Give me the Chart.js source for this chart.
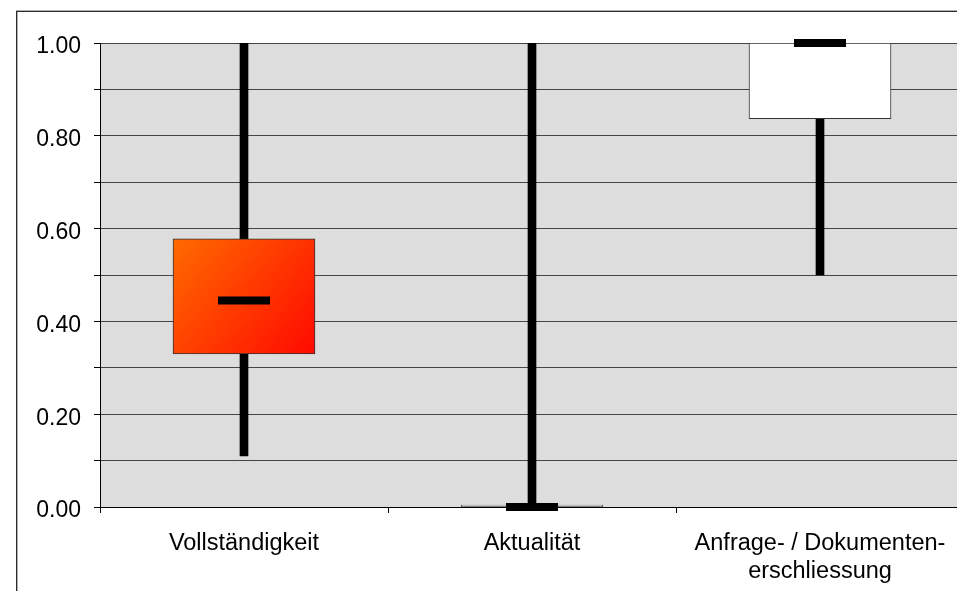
<!DOCTYPE html>
<html>
<head>
<meta charset="utf-8">
<script src="https://cdn.jsdelivr.net/npm/chart.js@4/dist/chart.umd.min.js"></script>
<style>
  html, body { margin: 0; padding: 0; overflow: hidden; background: #fff; }
  #wrap { position: absolute; left: 0; top: 0; width: 1000px; height: 600px; }
</style>
</head>
<body>
<div id="wrap"><canvas id="chart" width="1000" height="600"></canvas></div>
<script>
// box plot values per category
const categories = ['Vollständigkeit', 'Aktualität', ['Anfrage- / Dokumenten-', 'erschliessung']];
const minValues = [0.11, 0.00, 0.50];
const maxValues = [1.00, 1.00, 1.00];
const q1Values = [0.33, 0.00, 0.837];
const q3Values = [0.578, 0.00, 1.00];
const medianValues = [0.445, 0.00, 1.00];
const yTicks = [0, 0.2, 0.4, 0.6, 0.8, 1.0];

const fontFamily = "'Liberation Sans', Arial, sans-serif";

const frame = {
  id: 'frame',
  beforeDraw(chart) {
    const ctx = chart.ctx, a = chart.chartArea;
    ctx.save();
    ctx.fillStyle = '#fff';
    ctx.fillRect(0, 0, chart.width, chart.height);
    ctx.strokeStyle = '#222';
    ctx.lineWidth = 1.3;
    ctx.strokeRect(16.7, 11.3, 2000, 2000);
    ctx.fillStyle = '#dddddd';
    ctx.fillRect(a.left, a.top, a.right - a.left, a.bottom - a.top);
    ctx.restore();
  }
};

function boxFill(c) {
  if (c.dataIndex !== 0) return '#ffffff';
  const chart = c.chart;
  const xs = chart.scales.x, ys = chart.scales.y;
  if (!xs || !ys) return '#ff4000';
  const cx = xs.getPixelForValue(0);
  const y0 = ys.getPixelForValue(q3Values[0]);
  const y1 = ys.getPixelForValue(q1Values[0]);
  if (![cx, y0, y1].every(Number.isFinite)) return '#ff4000';
  const g = chart.ctx.createLinearGradient(cx - 71, y0, cx + 71, y1);
  g.addColorStop(0, '#ff6a00');
  g.addColorStop(1, '#ff0a00');
  return g;
}

new Chart(document.getElementById('chart'), {
  type: 'bar',
  data: {
    labels: categories,
    datasets: [
      {
        type: 'line',
        label: 'Median',
        data: medianValues,
        showLine: false,
        pointStyle: 'line',
        pointRadius: 26,
        pointBorderWidth: 8,
        pointBorderColor: '#000',
        borderColor: '#000',
        clip: false,
        order: 0
      },
      {
        label: 'Box',
        data: q1Values.map((v, i) => [v, q3Values[i]]),
        backgroundColor: boxFill,
        borderColor: '#333',
        borderWidth: 1,
        borderSkipped: false,
        barThickness: 142,
        minBarLength: 2,
        grouped: false,
        order: 1
      },
      {
        label: 'Range',
        data: minValues.map((v, i) => [v, maxValues[i]]),
        backgroundColor: '#000',
        borderWidth: 0,
        barThickness: 8,
        grouped: false,
        order: 2
      }
    ]
  },
  options: {
    responsive: false,
    animation: false,
    events: [],
    layout: { padding: { left: 0, top: 43, right: 36, bottom: 0 } },
    plugins: { legend: { display: false }, tooltip: { enabled: false } },
    scales: {
      x: {
        offset: true,
        grid: { offset: true, drawOnChartArea: false, drawTicks: true, tickLength: 6, tickColor: '#000' },
        border: { color: '#000', width: 1 },
        ticks: { color: '#000', font: { family: fontFamily, size: 23.5 }, padding: 16, maxRotation: 0, autoSkip: false },
        afterFit(s) { s.height = 93; }
      },
      y: {
        min: 0,
        max: 1,
        grid: { color: '#444', tickLength: 6, tickColor: '#000' },
        border: { color: '#000', width: 1 },
        ticks: {
          stepSize: 0.1,
          color: '#000',
          padding: 13,
          labelOffset: 4,
          font: { family: fontFamily, size: 23 },
          callback: v => yTicks.some(t => Math.abs(t - v) < 1e-6) ? v.toFixed(2) : ''
        },
        afterFit(s) { s.width = 100; }
      }
    }
  },
  plugins: [frame]
});
</script>
</body>
</html>
